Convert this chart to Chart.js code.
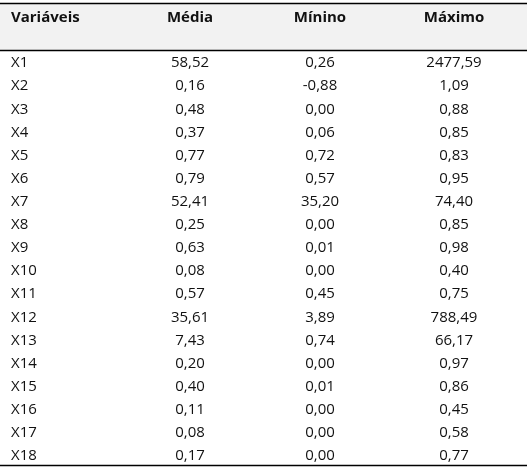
<!DOCTYPE html>
<html>
<head>
<meta charset="utf-8">
<script src="https://cdn.jsdelivr.net/npm/chart.js@4"></script>
<style>
  html, body { margin: 0; padding: 0; background: #fff; }
  #wrap { width: 530px; height: 467px; }
</style>
</head>
<body>
<div id="wrap"><canvas id="tbl"></canvas></div>
<script>
const headers = ['Variáveis', 'Média', 'Mínino', 'Máximo'];
const variables = ['X1','X2','X3','X4','X5','X6','X7','X8','X9','X10','X11','X12','X13','X14','X15','X16','X17','X18'];
const media = ['58,52','0,16','0,48','0,37','0,77','0,79','52,41','0,25','0,63','0,08','0,57','35,61','7,43','0,20','0,40','0,11','0,08','0,17'];
const minimo = ['0,26','-0,88','0,00','0,06','0,72','0,57','35,20','0,00','0,01','0,00','0,45','3,89','0,74','0,00','0,01','0,00','0,00','0,00'];
const maximo = ['2477,59','1,09','0,88','0,85','0,83','0,95','74,40','0,85','0,98','0,40','0,75','788,49','66,17','0,97','0,86','0,45','0,58','0,77'];

// column anchors in x-scale units (pixels of the 530 wide area)
const colX = [11, 190, 320, 454];
const colAlign = ['left', 'center', 'center', 'center'];

const tablePlugin = {
  id: 'tablePlugin',
  beforeDraw(chart) {
    const { ctx, scales: { x, y } } = chart;
    ctx.save();
    ctx.fillStyle = '#f2f2f2';
    ctx.fillRect(x.getPixelForValue(0), y.getPixelForValue(-2.59), 527, y.getPixelForValue(-0.56) - y.getPixelForValue(-2.59));
    ctx.strokeStyle = '#000';
    ctx.lineWidth = 1.5;
    [-2.59, -0.56, 17.39].forEach(v => {
      const py = Math.round(y.getPixelForValue(v)) + 0.5;
      ctx.beginPath();
      ctx.moveTo(x.getPixelForValue(0), py);
      ctx.lineTo(x.getPixelForValue(527), py);
      ctx.stroke();
    });
    ctx.restore();
  },
  afterDatasetsDraw(chart) {
    const { ctx, scales: { x, y } } = chart;
    ctx.save();
    ctx.fillStyle = '#111';
    ctx.textBaseline = 'middle';
    ctx.font = 'bold 15px "Open Sans"';
    headers.forEach((h, c) => {
      ctx.textAlign = colAlign[c];
      ctx.fillText(h, x.getPixelForValue(colX[c]), y.getPixelForValue(-1.97));
    });
    ctx.font = '15px "Open Sans"';
    const cols = [variables, media, minimo, maximo];
    cols.forEach((arr, c) => {
      ctx.textAlign = colAlign[c];
      arr.forEach((t, i) => ctx.fillText(t, x.getPixelForValue(colX[c]), y.getPixelForValue(i)));
    });
    ctx.restore();
  }
};

new Chart(document.getElementById('tbl'), {
  type: 'scatter',
  data: {
    datasets: [{
      data: variables.map((_, i) => ({ x: colX[0], y: i })),
      pointRadius: 0
    }]
  },
  options: {
    responsive: true,
    maintainAspectRatio: false,
    animation: false,
    layout: { padding: 0 },
    plugins: { legend: { display: false }, tooltip: { enabled: false } },
    scales: {
      x: { type: 'linear', min: 0, max: 530, display: false },
      y: { type: 'linear', min: -2.725, max: 17.474, reverse: true, display: false }
    }
  },
  plugins: [tablePlugin]
});
</script>
</body>
</html>
